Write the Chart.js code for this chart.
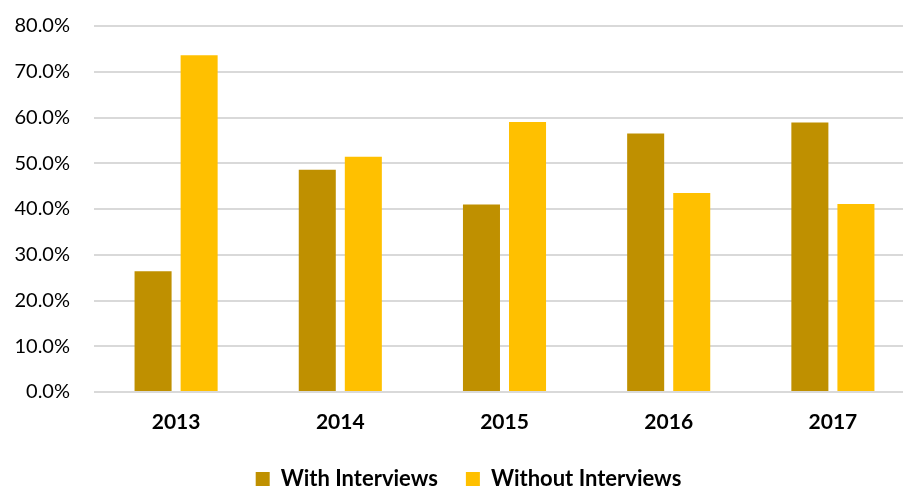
<!DOCTYPE html>
<html>
<head>
<meta charset="utf-8">
<script src="https://cdn.jsdelivr.net/npm/chart.js@4.4.1/dist/chart.umd.min.js"></script>
<style>
    html, body { margin: 0; padding: 0; background: #fff; overflow: hidden; }
    /* the original chart was a little wider than the picture, right side is cut off */
    #wrap { width: 947px; height: 487px; position: relative; }
</style>
</head>
<body>
<div id="wrap"><canvas id="interviewChart"></canvas></div>
<script>
// Chart data
const years = ["2013", "2014", "2015", "2016", "2017"];
const withInterviews = [26.4, 48.6, 41.0, 56.5, 58.9];
const withoutInterviews = [73.6, 51.4, 59.0, 43.5, 41.1];
const seriesNames = ["With Interviews", "Without Interviews"];

// Keep the legend compact and nudge it to where the original sits
const legendSpacing = {
    id: "legendSpacing",
    beforeInit(chart) {
        const originalFit = chart.legend.fit;
        chart.legend.fit = function fit() {
            originalFit.bind(chart.legend)();
            this.height = 52;
        };
    },
    afterLayout(chart) {
        chart.legend.left += 10;
        chart.legend.top += 5;
    },
};

const ctx = document.getElementById("interviewChart").getContext("2d");
const interviewChart = new Chart(ctx, {
    type: "bar",
    data: {
        labels: years,
        datasets: [
            {
                label: seriesNames[0],
                data: withInterviews,
                backgroundColor: "#BF9000", // dark gold
                categoryPercentage: 0.561,
                barPercentage: 0.804,
            },
            {
                label: seriesNames[1],
                data: withoutInterviews,
                backgroundColor: "#FFC000", // gold
                categoryPercentage: 0.561,
                barPercentage: 0.804,
            },
        ],
    },
    options: {
        responsive: true,
        maintainAspectRatio: false,
        animation: false,
        layout: {
            padding: { top: 0, right: 32, left: 12, bottom: 0 },
        },
        scales: {
            x: {
                grid: { display: false, drawTicks: false },
                border: { display: false },
                ticks: {
                    padding: 18,
                    color: "#000",
                    font: { family: "Lato", size: 21, weight: "bold" },
                },
                afterFit: (axis) => {
                    axis.height = 43;
                },
            },
            y: {
                min: 0,
                max: 80,
                grid: { color: "#D9D9D9", lineWidth: 2, drawTicks: false },
                border: { display: false },
                ticks: {
                    stepSize: 10,
                    padding: 24,
                    color: "#000",
                    font: { family: "Lato", size: 20 },
                    callback: (value) => value.toFixed(1) + "%",
                },
                afterFit: (axis) => {
                    axis.width = 82;
                    axis.paddingTop = 26;
                },
            },
        },
        plugins: {
            legend: {
                position: "bottom",
                labels: {
                    boxWidth: 14,
                    boxHeight: 14,
                    padding: 28,
                    color: "#000",
                    font: { family: "Lato", size: 22, weight: "bold" },
                },
            },
            tooltip: { enabled: false },
        },
    },
    plugins: [legendSpacing],
});
</script>
</body>
</html>
